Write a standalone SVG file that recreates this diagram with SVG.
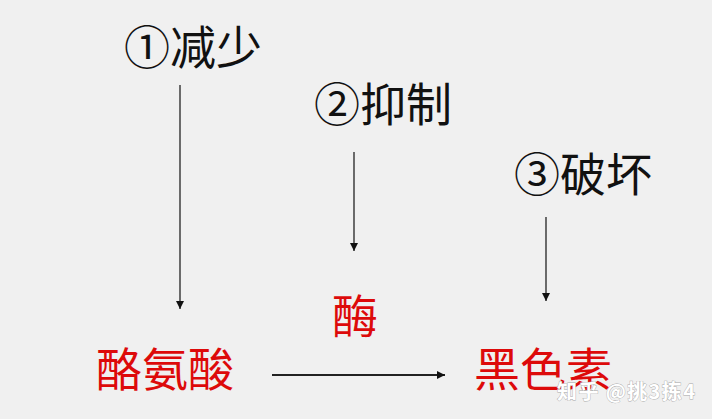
<svg xmlns="http://www.w3.org/2000/svg" width="712" height="419" viewBox="0 0 712 419">
<style>
.lbl{font-family:"Noto Sans CJK SC","Noto Sans",sans-serif;font-size:46px;fill:#111}
.red{font-family:"Noto Sans CJK SC","Noto Sans",sans-serif;font-size:46px;fill:#dd0a0a}
.wm{font-family:"Noto Sans CJK SC","Noto Sans",sans-serif;font-size:20px;font-weight:bold;fill:#ffffff;stroke:#a8a8a8;stroke-width:0.8;paint-order:stroke}
.ln{stroke:#222;fill:none}
</style>
<defs>
<marker id="ah" markerWidth="8" markerHeight="8" refX="8" refY="4" orient="auto" markerUnits="userSpaceOnUse">
<path d="M0,0 L8,4 L0,8 Z" fill="#111"/>
</marker>
</defs>
<rect width="712" height="419" fill="#f0f0f0"/>
<g id="n1"><text class="lbl" x="124" y="64">①减少</text></g>
<g id="n2"><text class="lbl" x="314" y="121">②抑制</text></g>
<g id="n3"><text class="lbl" x="514" y="191">③破坏</text></g>
<g id="n4"><text class="red" x="96" y="386">酪氨酸</text></g>
<g id="n5"><text class="red" x="332" y="333">酶</text></g>
<g id="n6"><text class="red" x="474" y="386">黑色素</text></g>
<g id="connectors">
<line class="ln" x1="180" y1="85" x2="180" y2="309" stroke-width="1.3" marker-end="url(#ah)"/>
<line class="ln" x1="354" y1="152" x2="354" y2="251" stroke-width="1.3" marker-end="url(#ah)"/>
<line class="ln" x1="546" y1="217" x2="546" y2="301" stroke-width="1.3" marker-end="url(#ah)"/>
<line class="ln" x1="272" y1="375" x2="445" y2="375" stroke-width="2" marker-end="url(#ah)"/>
</g>
<text class="wm" x="557" y="399" textLength="138" lengthAdjust="spacing">知乎 @挑3拣4</text>
</svg>
